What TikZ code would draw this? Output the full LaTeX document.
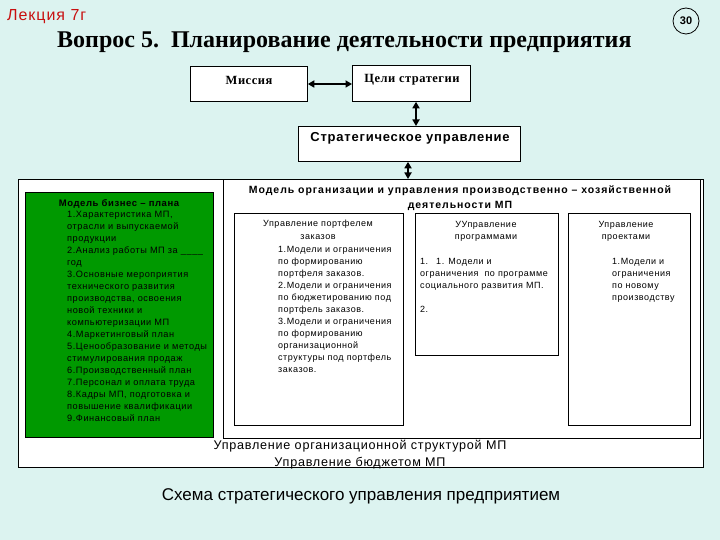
\documentclass[tikz,border=0pt]{standalone}
\usepackage{fontspec}
\setmainfont{Liberation Serif}
\newfontfamily\arial{Liberation Sans}
\newfontfamily\arialsp[LetterSpace=6]{Liberation Sans}
\newfontfamily\arialwide[LetterSpace=9]{Liberation Sans}
\newfontfamily\timessp[LetterSpace=4]{Liberation Serif}
\usetikzlibrary{arrows.meta,calc}
\definecolor{bgc}{RGB}{220,243,240}
\definecolor{grn}{RGB}{0,153,0}
\definecolor{lred}{RGB}{200,16,16}
\begin{document}
\begin{tikzpicture}[x=1pt,y=-1pt,
  box/.style={draw=black, line width=0.8pt, fill=white, inner sep=0pt, anchor=north west},
  dblarr/.style={{Triangle[length=6.5pt,width=7pt]}-{Triangle[length=6.5pt,width=7pt]}, line width=2.2pt},
  small/.style={font=\arialsp\fontsize{9}{12}\selectfont, inner sep=0pt},
]
\useasboundingbox (0,0) rectangle (720,540);
\fill[bgc] (0,0) rectangle (720,540);

% header
\node[anchor=west, inner sep=0pt, text=lred, font=\arialsp\fontsize{16}{18}\selectfont] (lect) at (7,17) {Лекция 7г};
\node[anchor=west, inner sep=0pt, font=\bfseries\fontsize{24}{28}\selectfont] (title) at (57,42) {Вопрос 5.\ \ Планирование деятельности предприятия};
\node[circle, draw=black, line width=0.8pt, minimum size=26pt, inner sep=0pt, font=\arial\bfseries\fontsize{11}{13}\selectfont] (num) at (686,21) {30};

% top boxes
\node[box, minimum width=117pt, minimum height=35pt] (mis) at (190,66) {};
\node[box, minimum width=118pt, minimum height=36pt] (celi) at (352,65) {};
\node[font=\timessp\bfseries\fontsize{12.5}{14}\selectfont] (mist) at (249,80) {Миссия};
\node[font=\timessp\bfseries\fontsize{12.5}{14}\selectfont] (celit) at (412,80) {Цели стратегии};
\node[box, minimum width=222pt, minimum height=35pt] (strat) at (298,126) {};
\node[font=\arialsp\bfseries\fontsize{13}{15}\selectfont] (stratt) at (410,138) {Стратегическое управление};

% frames
\node[box, minimum width=685pt, minimum height=288pt] (outer) at (18,179) {};
\node[box, minimum width=477pt, minimum height=259pt] (inner) at (223,179) {};
\node[box, fill=grn, minimum width=188pt, minimum height=245pt] (green) at (25,192) {};
\node[box, minimum width=169pt, minimum height=212pt] (b1) at (234,213) {};
\node[box, minimum width=143pt, minimum height=142pt] (b2) at (415,213) {};
\node[box, minimum width=122pt, minimum height=212pt] (b3) at (568,213) {};

% arrows
\coordinate (ax1) at (416,0);
\coordinate (ax2) at (408,0);
\draw[dblarr] (mis.east |- 0,84) -- (celi.west |- 0,84);
\draw[dblarr] (celi.south -| ax1) -- (strat.north -| ax1);
\draw[dblarr] (strat.south -| ax2) -- (outer.north -| ax2);

% green box text
\node[font=\arialsp\bfseries\fontsize{9.5}{12}\selectfont, inner sep=0pt] (gt) at (119,204) {Модель бизнес – плана};
\node[anchor=north west, align=left, font=\arialsp\fontsize{9.2}{12}\selectfont, inner sep=0pt] (gl) at (67,209.3) {\strut 1.Характеристика МП,\\
отрасли и выпускаемой\\
продукции\\
2.Анализ работы МП за \_\_\_\_\\
год\\
3.Основные мероприятия\\
технического развития\\
производства, освоения\\
новой техники и\\
компьютеризации МП\\
4.Маркетинговый план\\
5.Ценообразование и методы\\
стимулирования продаж\\
6.Производственный план\\
7.Персонал и оплата труда\\
8.Кадры МП, подготовка и\\
повышение квалификации\\
9.Финансовый план};

% model title
\node[anchor=north, align=center, font=\arialwide\bfseries\fontsize{10.5}{15}\selectfont, inner sep=0pt] (mt) at (460,182.3) {\strut Модель организации и управления производственно – хозяйственной\\деятельности МП};

% box 1
\node[small, anchor=north, align=center, font=\arialsp\fontsize{9}{13}\selectfont] (b1h) at (318,217.3) {\strut Управление портфелем\\заказов};
\node[small, anchor=north west, align=left] (b1l) at (278,244.1) {\strut 1.Модели и ограничения\\
по формированию\\
портфеля заказов.\\
2.Модели и ограничения\\
по бюджетированию под\\
портфель заказов.\\
3.Модели и ограничения\\
по формированию\\
организационной\\
структуры под портфель\\
заказов.};

% box 2
\node[small, anchor=north, align=center] (b2h) at (486,219.1) {\strut УУправление\\программами};
\node[small, anchor=north west, align=left] (b2l) at (420,256.1) {\strut 1.\hspace{8pt}1. Модели и\\
ограничения\ \ по программе\\
социального развития МП.\\
\strut\\
2.};

% box 3
\node[small, anchor=north, align=center] (b3h) at (626,219.1) {\strut Управление\\проектами};
\node[small, anchor=north west, align=left] (b3l) at (612,256.1) {\strut 1.Модели и\\
ограничения\\
по новому\\
производству};

% bottom texts
\node[anchor=north, align=center, font=\arialsp\fontsize{12.6}{17}\selectfont, inner sep=0pt] (bt) at (360,437.5) {\strut Управление организационной структурой МП\\Управление бюджетом МП};
\node[font=\arial\fontsize{17}{20}\selectfont, inner sep=0pt] (cap) at (361,496) {Схема стратегического управления предприятием};
\end{tikzpicture}
\end{document}
